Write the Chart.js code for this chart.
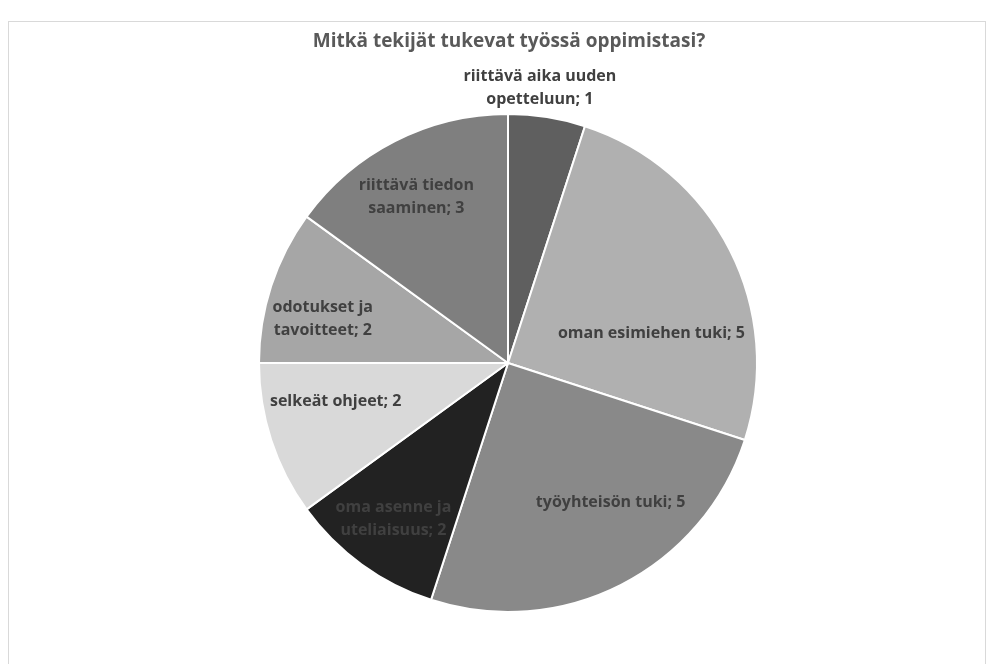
<!DOCTYPE html>
<html><head><meta charset="utf-8">
<script src="https://cdn.jsdelivr.net/npm/chart.js@4"></script>
<style>
html,body{margin:0;padding:0;background:#fff;overflow:hidden;}
#wrap{position:absolute;left:0;top:0;width:995px;height:664px;}
#frame{position:absolute;left:8px;top:21px;width:978px;height:700px;border:1px solid #d9d9d9;box-sizing:border-box;}
canvas{position:absolute;left:0;top:0;}
</style></head>
<body>
<div id="wrap"><div id="frame"></div><canvas id="c" width="995" height="664"></canvas></div>
<script>
const chartTitle = 'Mitkä tekijät tukevat työssä oppimistasi?';
const categories = ['riittävä aika uuden opetteluun','oman esimiehen tuki','työyhteisön tuki','oma asenne ja uteliaisuus','selkeät ohjeet','odotukset ja tavoitteet','riittävä tiedon saaminen'];
const values = [1,5,5,2,2,2,3];
const labelLines = [['riittävä aika uuden','opetteluun; 1'],['oman esimiehen tuki; 5'],['työyhteisön tuki; 5'],['oma asenne ja','uteliaisuus; 2'],['selkeät ohjeet; 2'],['odotukset ja','tavoitteet; 2'],['riittävä tiedon','saaminen; 3']];
const colors = ['#5f5f5f','#b0b0b0','#898989','#222222','#d9d9d9','#a6a6a6','#7f7f7f'];
// label centres relative to pie centre, in units of radius
const labelPos = [[0.128,-1.105],[0.576,-0.12],[0.412,0.56],[-0.46,0.628],[-0.692,0.156],[-0.744,-0.178],[-0.368,-0.665]];

const labelPlugin = {
  id:'labels',
  afterDatasetsDraw(chart){
    const ctx = chart.ctx;
    const meta = chart.getDatasetMeta(0);
    ctx.save();
    ctx.font = 'bold 16px "Open Sans"';
    ctx.fillStyle = '#404040';
    ctx.textAlign = 'center';
    ctx.textBaseline = 'middle';
    meta.data.forEach((arc,i)=>{
      const r = arc.outerRadius;
      const cx = arc.x + labelPos[i][0]*r;
      const cy = arc.y + labelPos[i][1]*r;
      const lines = labelLines[i];
      const lh = 23;
      lines.forEach((t,j)=>{
        ctx.fillText(t, cx, cy + (j-(lines.length-1)/2)*lh);
      });
    });
    ctx.font = 'bold 19px "Open Sans"';
    ctx.fillStyle = '#595959';
    ctx.fillText(chartTitle, 509, 42);
    ctx.restore();
  }
};

new Chart(document.getElementById('c'), {
  type:'pie',
  data:{labels:categories, datasets:[{data:values, backgroundColor:colors, borderColor:'#ffffff', borderWidth:2}]},
  options:{
    responsive:false, animation:false,
    layout:{padding:{top:113,bottom:51,left:258,right:237}},
    plugins:{legend:{display:false}, tooltip:{enabled:false}, title:{display:false}}
  },
  plugins:[labelPlugin]
});
</script>
</body></html>
